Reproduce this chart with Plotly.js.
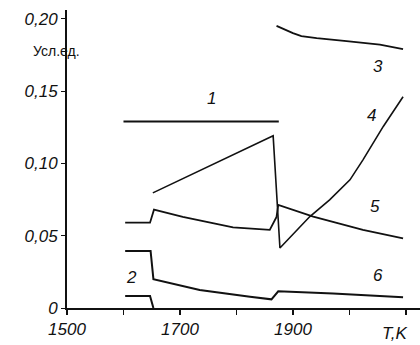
<!DOCTYPE html>
<html><head><meta charset="utf-8">
<script src="https://cdn.plot.ly/plotly-3.0.1.min.js"></script>
<style>html,body{margin:0;padding:0;background:#fff}#chart{width:420px;height:345px}</style>
</head><body><div id="chart"></div>
<script>
// Temperature (K) and values (arb. units) for each numbered curve
const curve1T = [1600, 1875];
const curve1V = [0.129, 0.129];
const curve2T = [1603, 1647, 1653];
const curve2V = [0.0083, 0.0083, 0.0];
const curve3T = [1871, 1885, 1900, 1915, 1942, 1995, 2054, 2095];
const curve3V = [0.195, 0.1925, 0.190, 0.188, 0.1865, 0.1845, 0.182, 0.179];
const curve4T = [1652, 1865, 1877, 1930, 1965, 2001, 2024, 2060, 2095];
const curve4V = [0.0796, 0.119, 0.0415, 0.0632, 0.0747, 0.0886, 0.1024, 0.1255, 0.146];
const curve5T = [1603, 1647, 1654, 1705, 1794, 1859, 1871, 1874, 1936, 2024, 2095];
const curve5V = [0.059, 0.059, 0.068, 0.063, 0.0558, 0.054, 0.063, 0.0713, 0.0632, 0.054, 0.0482];
const curve6T = [1603, 1648, 1653, 1735, 1824, 1862, 1874, 1971, 2095];
const curve6V = [0.0394, 0.0394, 0.0199, 0.0125, 0.0078, 0.006, 0.0115, 0.0101, 0.0074];

const curveLabels = ['1', '2', '3', '4', '5', '6'];
const labelT = [1755, 1615, 2050, 2040, 2045, 2050];
const labelV = [0.145, 0.021, 0.167, 0.133, 0.07, 0.0225];

const xTickVals = [1500, 1600, 1700, 1800, 1900, 2000, 2100];
const xTickText = ['1500', '', '1700', '', '1900', '', ''];
const yTickVals = [0, 0.05, 0.10, 0.15, 0.20];
const yTickText = ['0', '0,05', '0,10', '0,15', '0,20'];

const series = [[curve1T, curve1V], [curve2T, curve2V], [curve3T, curve3V],
                [curve4T, curve4V], [curve5T, curve5V], [curve6T, curve6V]];
const widths = [2, 2, 1.8, 1.6, 1.8, 2];
const traces = series.map(([t, v], i) => ({
  x: t, y: v, mode: 'lines', type: 'scatter',
  line: {color: '#111', width: widths[i]}, hoverinfo: 'skip', showlegend: false
}));

const fontFam = '"Liberation Sans", Arial, sans-serif';
const annotations = curveLabels.map((s, i) => ({
  x: labelT[i], y: labelV[i], xref: 'x', yref: 'y', text: s, showarrow: false,
  font: {family: fontFam, size: 17, color: '#111', style: 'italic'}
}));
annotations.push({x: 2080, y: 0, xref: 'x', yref: 'y', yshift: -25, text: 'T,K', showarrow: false,
  font: {family: fontFam, size: 17, color: '#111', style: 'italic'}});
annotations.push({x: -0.029, y: 0.862, xref: 'paper', yref: 'paper', xanchor: 'center', yanchor: 'middle',
  text: 'Усл.ед.', showarrow: false,
  font: {family: fontFam, size: 14, color: '#111'}});

const layout = {
  width: 420, height: 345,
  margin: {l: 67, r: 0, t: 10, b: 37},
  paper_bgcolor: '#fff', plot_bgcolor: '#fff',
  showlegend: false,
  xaxis: {
    range: [1500, 2125], showgrid: false, zeroline: false,
    showline: true, linecolor: '#111', linewidth: 2,
    tickmode: 'array', tickvals: xTickVals, ticktext: xTickText,
    ticks: 'outside', ticklen: 5, tickwidth: 1.5, tickcolor: '#111',
    tickfont: {family: fontFam, size: 17, color: '#111', style: 'italic'}
  },
  yaxis: {
    range: [0, 0.206], showgrid: false, zeroline: false,
    showline: true, linecolor: '#111', linewidth: 2,
    tickmode: 'array', tickvals: yTickVals, ticktext: yTickText,
    ticks: 'outside', ticklen: 4, tickwidth: 1, tickcolor: '#111',
    tickfont: {family: fontFam, size: 17, color: '#111', style: 'italic'}
  },
  annotations: annotations
};
Plotly.newPlot('chart', traces, layout, {staticPlot: true, displayModeBar: false});
</script></body></html>
